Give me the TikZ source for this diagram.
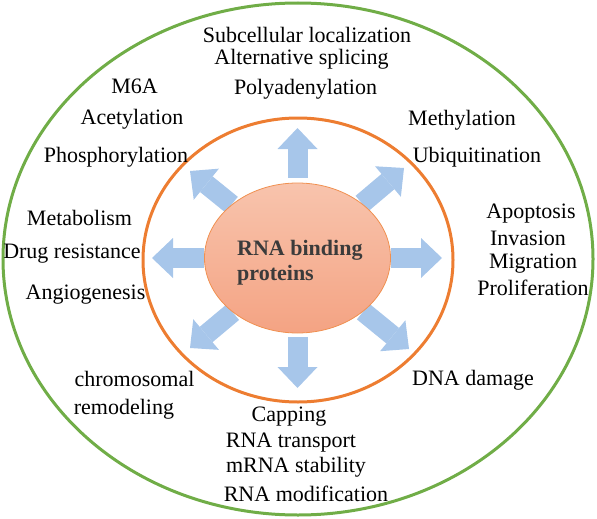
\documentclass[tikz,border=0pt]{standalone}
\usepackage{fontspec}
\setmainfont{Liberation Serif}
\usetikzlibrary{arrows.meta,backgrounds,shapes.geometric}
\definecolor{ringgreen}{HTML}{70AD47}
\definecolor{ringorange}{HTML}{ED7D31}
\definecolor{coretop}{HTML}{F8C4AD}
\definecolor{corebot}{HTML}{F4A383}
\definecolor{arrowblue}{HTML}{A7C6EA}
\definecolor{coretext}{HTML}{3B3B3B}

\begin{document}
\begin{tikzpicture}[x=1pt,y=-1pt,
		lbl/.style={font=\fontsize{22}{22}\selectfont, anchor=base, inner sep=0pt},
		corelbl/.style={font=\bfseries\fontsize{22}{22}\selectfont, text=coretext, anchor=base west, inner sep=0pt},
		rbparrow/.style={line width=20pt, color=arrowblue, -{Triangle[width=40pt,length=21pt,line width=0pt]}}]
	%%%%% START %%%%%
	\useasboundingbox (0,0) rectangle (597,519);
	
	\draw[line width=3pt, color=ringgreen] (298,259) ellipse (295 and 256);
	\draw[line width=3pt, color=ringorange] (298,260) ellipse (155 and 142);
	
	\node[ellipse, draw=ringorange!85, line width=0.8pt, top color=coretop, bottom color=corebot, minimum width=186pt, minimum height=150pt, inner sep=0pt] (rbp) at (297.5,258) {};
	\node[corelbl] (rbpone) at (237,255) {RNA binding};
	\node[corelbl] (rbptwo) at (237,280) {proteins};
	
	\coordinate (tipN) at (297.5,128);
	\coordinate (tipS) at (297.5,388);
	\coordinate (tipE) at (442,258);
	\coordinate (tipW) at (152,258);
	\coordinate (tipNW) at (190,171);
	\coordinate (tipNE) at (404,168);
	\coordinate (tipSW) at (190,348);
	\coordinate (tipSE) at (409,349);
	
	\begin{scope}[on background layer]
		\draw[rbparrow, shorten <=5pt] (rbp) -- (tipN);
		\draw[rbparrow, shorten <=4pt] (rbp) -- (tipS);
		\draw[rbparrow] (rbp) -- (tipE);
		\draw[rbparrow] (rbp) -- (tipW);
		\draw[rbparrow] (rbp) -- (tipNW);
		\draw[rbparrow] (rbp) -- (tipNE);
		\draw[rbparrow] (rbp) -- (tipSW);
		\draw[rbparrow] (rbp) -- (tipSE);
	\end{scope}
	
	% top
	\node[lbl] (subloc) at (307,43) {Subcellular localization};
	\node[lbl] (altspl) at (301.5,65) {Alternative splicing};
	\node[lbl] (polya) at (305.5,95) {Polyadenylation};
	
	% upper left
	\node[lbl] (msixa) at (134.5,93) {M6A};
	\node[lbl] (acet) at (132,124) {Acetylation};
	\node[lbl] (phos) at (116,162) {Phosphorylation};
	
	% upper right
	\node[lbl] (meth) at (462,125) {Methylation};
	\node[lbl] (ubiq) at (477,162) {Ubiquitination};
	
	% left
	\node[lbl] (metab) at (79.5,225) {Metabolism};
	\node[lbl] (drugres) at (72,258) {Drug resistance};
	\node[lbl] (angio) at (85.5,299) {Angiogenesis};
	
	% right
	\node[lbl] (apop) at (531,218) {Apoptosis};
	\node[lbl] (inva) at (528,245) {Invasion};
	\node[lbl] (migr) at (533,268) {Migration};
	\node[lbl] (prolif) at (533,295) {Proliferation};
	
	% lower left and right
	\node[lbl] (chromo) at (134.5,386) {chromosomal};
	\node[lbl] (remod) at (124,414) {remodeling};
	\node[lbl] (dnadmg) at (473,385) {DNA damage};
	
	% bottom
	\node[lbl] (capping) at (289,421) {Capping};
	\node[lbl] (rnatrans) at (291,447) {RNA transport};
	\node[lbl] (mrnastab) at (296,472) {mRNA stability};
	\node[lbl] (rnamod) at (306,501) {RNA modification};
	
	%%%%% END %%%%%
\end{tikzpicture}
\end{document}
